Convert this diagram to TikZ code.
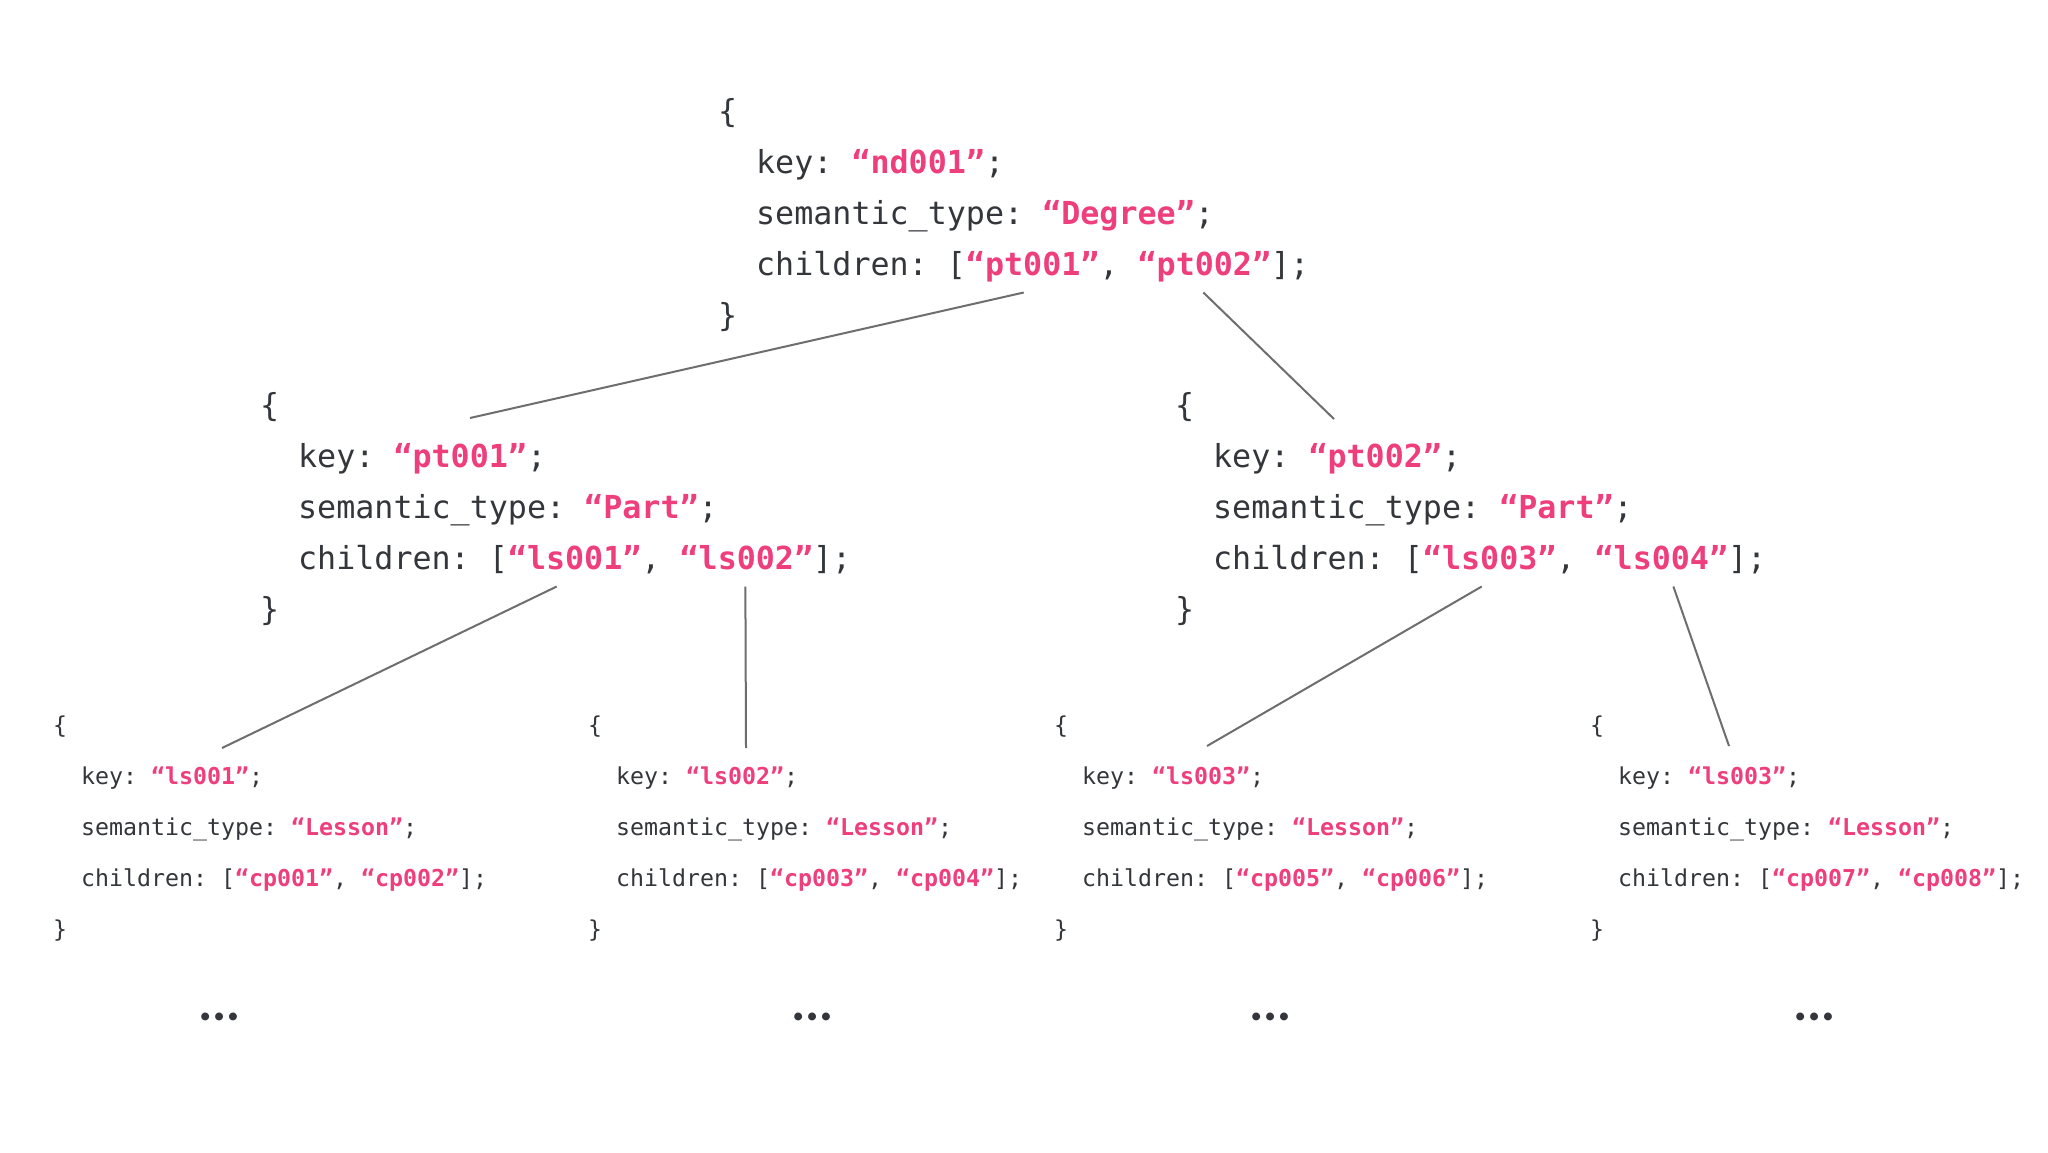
\documentclass[tikz,border=0pt]{standalone}
\usepackage{fontspec}
\setmonofont{DejaVu Sans Mono}
\newfontfamily\dotsfont{Lato}
\usepackage{tikz}
\usetikzlibrary{positioning}

\definecolor{codeInk}{HTML}{33363A}
\definecolor{strPink}{HTML}{EE3F7C}
\definecolor{linkGrey}{HTML}{6E6E6E}

\newcommand{\strval}[1]{\textcolor{strPink}{\bfseries #1}}

% one record: name, style, x, y (baseline of the brace), key, type, child 1, child 2
\newcommand{\jsonblock}[8]{%
  \node[#2,anchor=base west] (#1-open) at (#3,#4) {\{};
  \node[#2,anchor=base west] (#1-key) at (#3,#4+51) {\phantom{\{\{}key: \strval{“#5”};};
  \node[#2,anchor=base west] (#1-type) at (#3,#4+102) {\phantom{\{\{}semantic\_type: \strval{“#6”};};
  \node[#2,anchor=base west] (#1-ch) at (#3,#4+153) {\phantom{\{\{}children: [};
  \node[#2,base right=0pt of #1-ch] (#1-c1) {\strval{“#7”}};
  \node[#2,base right=0pt of #1-c1] (#1-sep) {,\phantom{x}};
  \node[#2,base right=0pt of #1-sep] (#1-c2) {\strval{“#8”}};
  \node[#2,base right=0pt of #1-c2] (#1-end) {];};
  \node[#2,anchor=base west] (#1-close) at (#3,#4+204) {\}};
}

\begin{document}
\begin{tikzpicture}
      [x=0.5pt,y=-0.5pt,
       bigcode/.style={font=\ttfamily\fontsize{15.84pt}{19pt}\selectfont,text=codeInk,inner sep=0pt,outer sep=0pt},
       smallcode/.style={font=\ttfamily\fontsize{11.63pt}{14pt}\selectfont,text=codeInk,inner sep=0pt,outer sep=0pt},
       moreDots/.style={font=\dotsfont\bfseries\fontsize{26pt}{28pt}\selectfont,text=codeInk,inner sep=0pt},
       link/.style={draw=linkGrey,line width=1pt}]
      \fill[white] (0,0) rectangle (2048,1152);
      \useasboundingbox (0,0) rectangle (2048,1152);

      % degree
      \jsonblock{nd001}{bigcode}{718}{122}{nd001}{Degree}{pt001}{pt002}
      % parts
      \jsonblock{pt001}{bigcode}{260}{416}{pt001}{Part}{ls001}{ls002}
      \jsonblock{pt002}{bigcode}{1175}{416}{pt002}{Part}{ls003}{ls004}
      % lessons
      \jsonblock{ls001}{smallcode}{53}{733}{ls001}{Lesson}{cp001}{cp002}
      \jsonblock{ls002}{smallcode}{588}{733}{ls002}{Lesson}{cp003}{cp004}
      \jsonblock{ls003}{smallcode}{1054}{733}{ls003}{Lesson}{cp005}{cp006}
      \jsonblock{ls004}{smallcode}{1590}{733}{ls003}{Lesson}{cp007}{cp008}

      \node[moreDots] (dots1) at (220,1017) {…};
      \node[moreDots] (dots2) at (813,1017) {…};
      \node[moreDots] (dots3) at (1271,1017) {…};
      \node[moreDots] (dots4) at (1815,1017) {…};

      \coordinate (pt001-top) at (470,418);
      \coordinate (pt002-top) at (1334,419);
      \coordinate (ls001-top) at (222,748);
      \coordinate (ls002-top) at (746,748);
      \coordinate (ls003-top) at (1207,746);
      \coordinate (ls004-top) at (1729,746);

      \draw[link] ([xshift=-4.5pt,yshift=-8.75pt]nd001-c1.base) -- (pt001-top);
      \draw[link] ([xshift=-0.5pt,yshift=-8.75pt]nd001-c2.base) -- (pt002-top);
      \draw[link] ([xshift=-9pt,yshift=-8.75pt]pt001-c1.base) -- (ls001-top);
      \draw[link] ([xshift=-0.5pt,yshift=-8.75pt]pt001-c2.base) -- (ls002-top);
      \draw[link] ([xshift=-4pt,yshift=-8.75pt]pt002-c1.base) -- (ls003-top);
      \draw[link] ([xshift=6pt,yshift=-8.75pt]pt002-c2.base) -- (ls004-top);
    \end{tikzpicture}
\end{document}
